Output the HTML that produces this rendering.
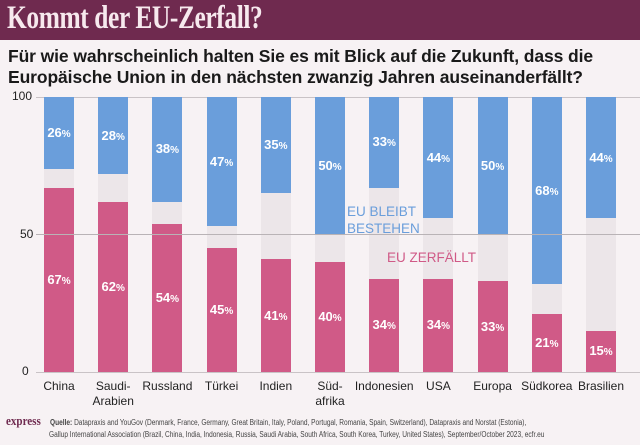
<!DOCTYPE html>
<html><head><meta charset="utf-8"><style>
body{margin:0;width:640px;height:445px;background:#f7f2f4;overflow:hidden;font-family:"Liberation Sans",sans-serif;position:relative}
.hdr{position:absolute;left:0;top:0;width:640px;height:40px;background:#6f2a4f}
.hdr span{position:absolute;left:7px;top:0px;font-family:"Liberation Serif",serif;font-weight:bold;font-size:33px;color:#f7e9ee;letter-spacing:-0.5px;transform:scaleX(0.77);transform-origin:left;white-space:nowrap}
.sub{position:absolute;left:8px;top:46px;font-weight:bold;font-size:17.5px;line-height:21px;color:#1a1a1a;letter-spacing:-0.1px;white-space:nowrap}
.ax{position:absolute;font-size:12px;color:#222}
.ln{position:absolute;left:36px;width:604px;height:1px;background:#c9c3c6}
.bar{position:absolute;width:30px}
.lab{position:absolute;width:40px;text-align:center;color:#fff;font-weight:bold;font-size:13px}
.lab small{font-size:10px}
.cat{position:absolute;width:60px;text-align:center;font-size:12px;color:#222;top:379px;line-height:15px}
.src{position:absolute;left:47px;font-size:8px;color:#444;transform:scaleX(0.82);transform-origin:left;white-space:nowrap}
</style></head><body>
<div class="hdr"><span>Kommt der EU-Zerfall?</span></div>
<div class="sub">Für wie wahrscheinlich halten Sie es mit Blick auf die Zukunft, dass die<br>Europäische Union in den nächsten zwanzig Jahren auseinanderfällt?</div>
<div class="ax" style="left:12px;top:89px">100</div>
<div class="ax" style="left:20px;top:227px">50</div>
<div class="ax" style="left:22px;top:364px">0</div>
<div class="ln" style="top:97px"></div>
<div id="bars"></div>
<div class="ln" style="top:234px;background:#b9b3b6"></div>
<div class="ln" style="top:372px"></div>
<div style="position:absolute;left:347px;top:203px;color:#6a9edb;font-size:13.5px;line-height:17px">EU BLEIBT<br>BESTEHEN</div>
<div style="position:absolute;left:387px;top:250px;color:#d05a87;font-size:13.5px">EU ZERFÄLLT</div>
<div style="position:absolute;left:6px;top:413px;font-family:'Liberation Serif',serif;font-weight:bold;font-size:13px;color:#6f2a4f;transform:scaleX(0.85);transform-origin:left">express</div>
<div class="src" style="top:418px;left:50px"><b>Quelle:</b> Datapraxis and YouGov (Denmark, France, Germany, Great Britain, Italy, Poland, Portugal, Romania, Spain, Switzerland), Datapraxis and Norstat (Estonia),</div>
<div class="src" style="top:430px;left:49px">Gallup International Association (Brazil, China, India, Indonesia, Russia, Saudi Arabia, South Africa, South Korea, Turkey, United States), September/October 2023, ecfr.eu</div>
<script>
var d=[["China",26,67],["Saudi-<br>Arabien",28,62],["Russland",38,54],["Türkei",47,45],["Indien",35,41],["Süd-<br>afrika",50,40],["Indonesien",33,34],["USA",44,34],["Europa",50,33],["Südkorea",68,21],["Brasilien",44,15]];
var h="";
d.forEach(function(r,i){var x=44+i*54.2,b=r[1]*2.75,p=r[2]*2.75;
h+='<div class="bar" style="left:'+x+'px;top:97px;height:275px;background:#ece6e9"></div>';
h+='<div class="bar" style="left:'+x+'px;top:97px;height:'+b+'px;background:#6a9edb"></div>';
h+='<div class="bar" style="left:'+x+'px;top:'+(372-p)+'px;height:'+p+'px;background:#d05a87"></div>';
h+='<div class="lab" style="left:'+(x-5)+'px;top:'+(97+b/2-8)+'px">'+r[1]+'<small>%</small></div>';
h+='<div class="lab" style="left:'+(x-5)+'px;top:'+(372-p/2-8)+'px">'+r[2]+'<small>%</small></div>';
h+='<div class="cat" style="left:'+(x-15)+'px">'+r[0]+'</div>';});
document.getElementById("bars").innerHTML=h;
</script>
</body></html>
